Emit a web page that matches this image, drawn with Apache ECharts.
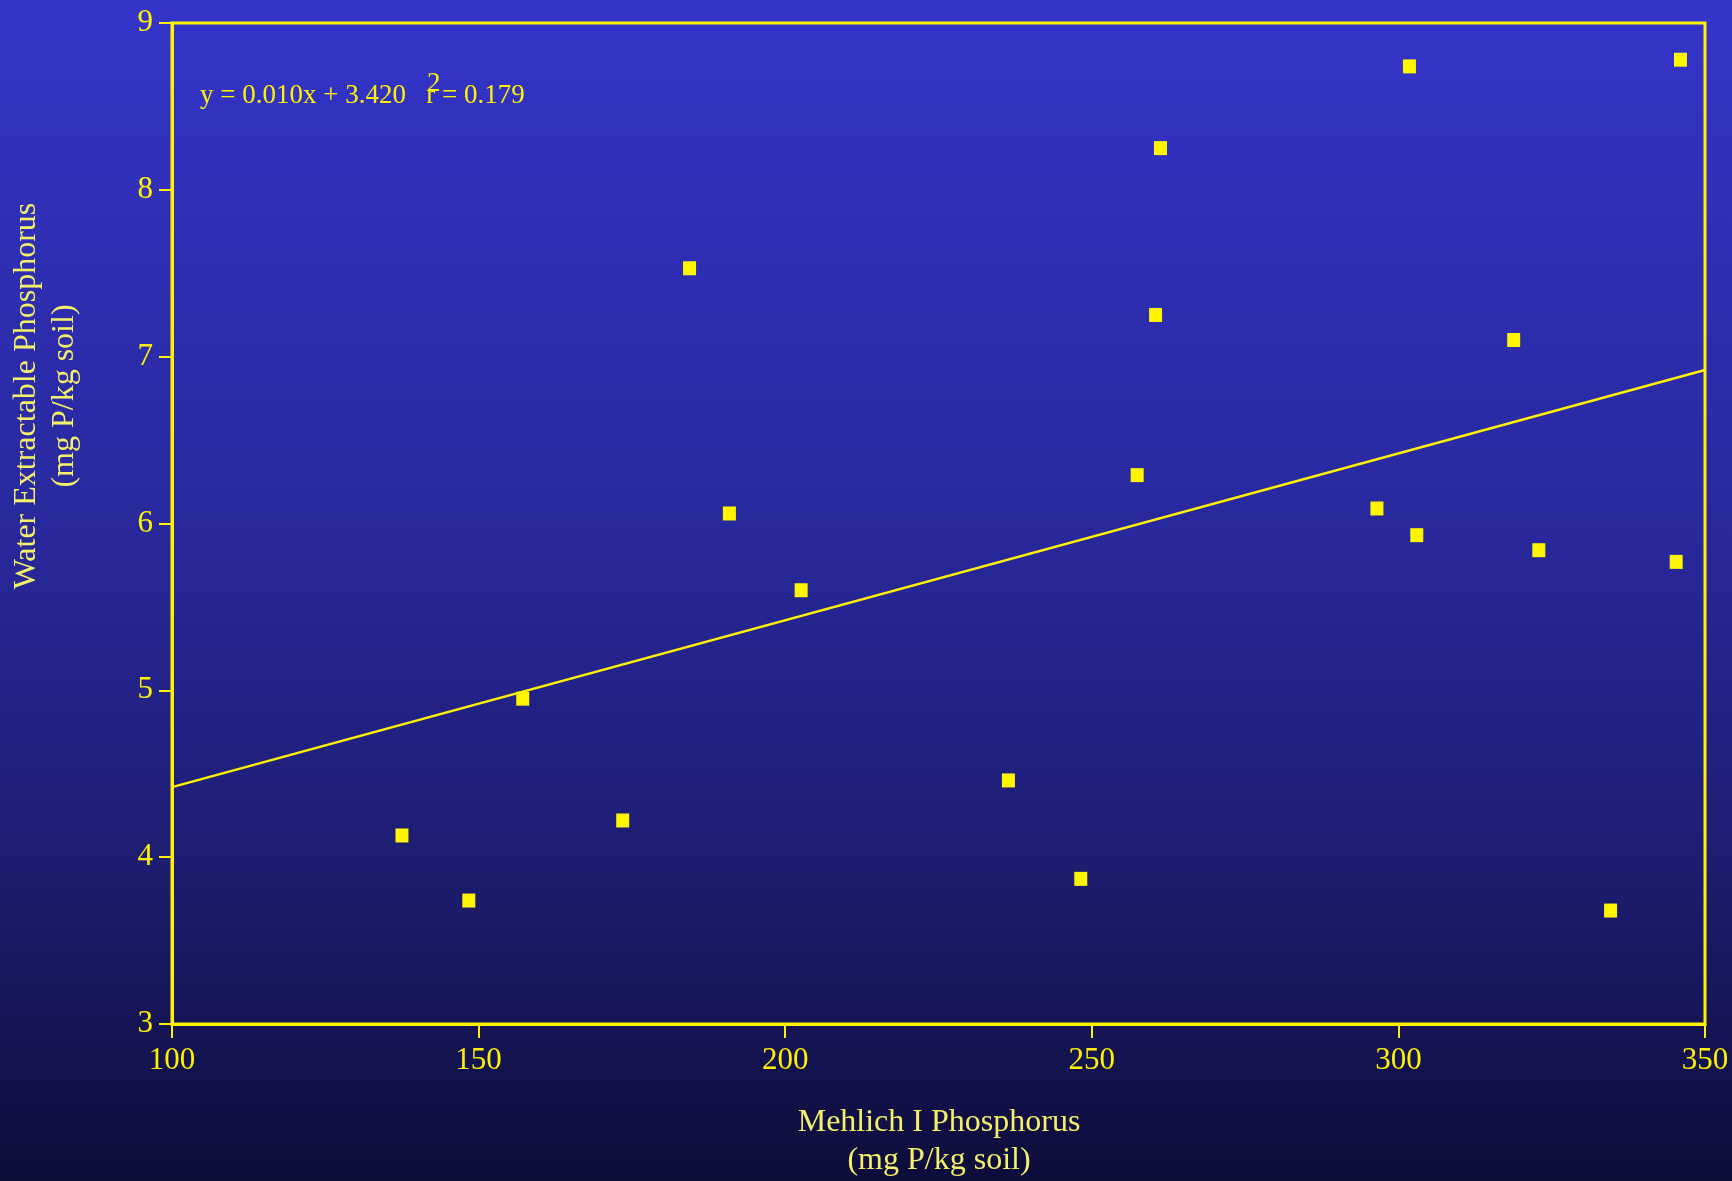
<!DOCTYPE html>
<html>
<head>
<meta charset="utf-8">
<title>Water Extractable vs Mehlich I Phosphorus</title>
<script src="https://cdn.jsdelivr.net/npm/echarts@6/dist/echarts.min.js"></script>
<style>
  html, body { margin: 0; padding: 0; background: #0e0e3a; }
  #chart { width: 1732px; height: 1181px; }
</style>
</head>
<body>
<div id="chart"></div>
<script>
// Mehlich I P (mg P/kg soil) for each soil sample
const mehlichP = [137.5, 148.4, 157.2, 173.5, 184.4, 190.9, 202.6, 236.4, 248.2, 257.4,
                  260.4, 261.2, 296.5, 301.8, 303.0, 318.8, 322.9, 334.6, 345.3, 346.0];
// Water extractable P (mg P/kg soil) for the same samples
const waterP = [4.13, 3.74, 4.95, 4.22, 7.53, 6.06, 5.60, 4.46, 3.87, 6.29,
                7.25, 8.25, 6.09, 8.74, 5.93, 7.10, 5.84, 3.68, 5.77, 8.78];

// Linear fit reported on the chart
const fitSlope = 0.010;
const fitIntercept = 3.420;
const fitR2 = 0.179;

// Axis ranges and tick labels
const xTicks = [100, 150, 200, 250, 300, 350];
const yTicks = [3, 4, 5, 6, 7, 8, 9];

const yellow = '#FFF200';
const markYellow = '#FFF500';
const titleYellow = '#F4F06A';
const serif = '"Liberation Serif", "Times New Roman", serif';

const points = mehlichP.map((x, i) => [x, waterP[i]]);
const xMin = xTicks[0], xMax = xTicks[xTicks.length - 1];
const fitLine = [
  [xMin, fitIntercept + fitSlope * xMin],
  [xMax, fitIntercept + fitSlope * xMax]
];

const chart = echarts.init(document.getElementById('chart'), null, { renderer: 'canvas' });

chart.setOption({
  animation: false,
  backgroundColor: {
    type: 'linear', x: 0, y: 0, x2: 0, y2: 1,
    colorStops: [
      { offset: 0, color: '#3434CA' },
      { offset: 0.45, color: '#28289C' },
      { offset: 0.75, color: '#1C1C6E' },
      { offset: 1, color: '#0D0D3A' }
    ]
  },
  grid: {
    left: 172, right: 27, top: 23, bottom: 157,
    show: true,
    borderColor: yellow,
    borderWidth: 3,
    backgroundColor: 'transparent'
  },
  xAxis: {
    type: 'value',
    min: xMin, max: xMax, interval: 50,
    axisLine: { show: true, lineStyle: { color: yellow, width: 3 } },
    axisTick: { show: true, inside: false, length: 14, lineStyle: { color: yellow, width: 2 } },
    axisLabel: { color: yellow, fontFamily: serif, fontSize: 31, margin: 21 },
    splitLine: { show: false }
  },
  yAxis: {
    type: 'value',
    min: yTicks[0], max: yTicks[yTicks.length - 1], interval: 1,
    axisLine: { show: true, lineStyle: { color: yellow, width: 3 } },
    axisTick: { show: true, inside: false, length: 13, lineStyle: { color: yellow, width: 2 } },
    axisLabel: { color: yellow, fontFamily: serif, fontSize: 31, margin: 19 },
    splitLine: { show: false }
  },
  series: [
    {
      type: 'line',
      data: fitLine,
      showSymbol: false,
      lineStyle: { color: yellow, width: 2.5 },
      z: 2
    },
    {
      type: 'scatter',
      data: points,
      symbol: 'rect',
      symbolSize: [13, 14],
      itemStyle: { color: markYellow, opacity: 1 },
      z: 3
    }
  ],
  graphic: [
    {
      type: 'text',
      x: 939, y: 1104,
      style: {
        text: 'Mehlich I Phosphorus\n(mg P/kg soil)',
        fill: titleYellow,
        font: '32px ' + serif,
        align: 'center',
        verticalAlign: 'top',
        lineHeight: 38
      }
    },
    {
      type: 'text',
      x: 46, y: 396,
      rotation: Math.PI / 2,
      style: {
        text: 'Water Extractable Phosphorus\n(mg P/kg soil)',
        fill: titleYellow,
        font: '32px ' + serif,
        align: 'center',
        verticalAlign: 'middle',
        lineHeight: 38
      }
    },
    {
      type: 'text',
      x: 200, y: 96,
      style: {
        text: 'y = ' + fitSlope.toFixed(3) + 'x + ' + fitIntercept.toFixed(3) + '   r = ' + fitR2.toFixed(3),
        fill: yellow,
        font: '27px ' + serif,
        align: 'left',
        verticalAlign: 'middle'
      }
    },
    {
      type: 'text',
      x: 427, y: 84,
      style: {
        text: '2',
        fill: yellow,
        font: '27px ' + serif,
        align: 'left',
        verticalAlign: 'middle'
      }
    }
  ]
});
</script>
</body>
</html>
